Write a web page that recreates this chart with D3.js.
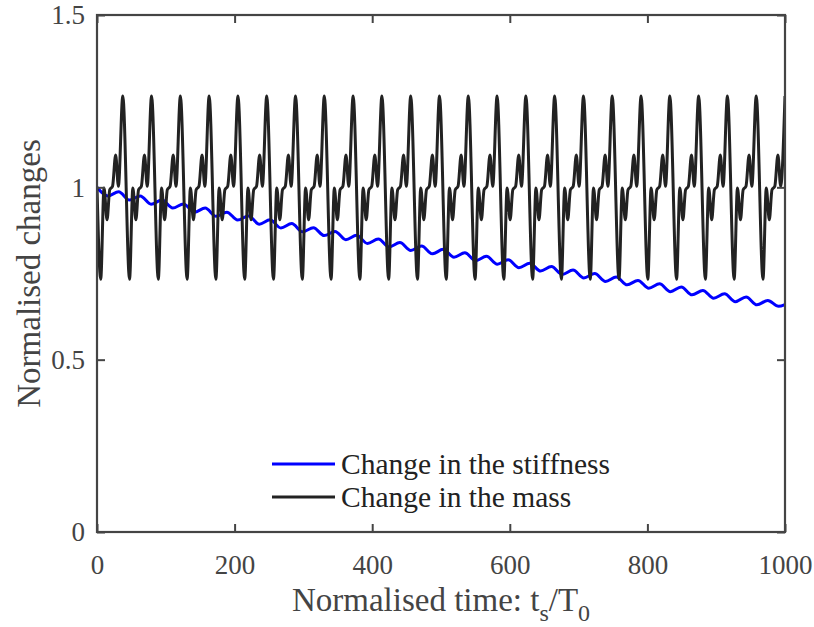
<!DOCTYPE html>
<html><head><meta charset="utf-8">
<script src="https://cdn.jsdelivr.net/npm/d3@7"></script>
<style>
body{margin:0;background:#fff}
svg{display:block}
text{font-family:"Liberation Serif","Times New Roman","Tinos","Nimbus Roman","DejaVu Serif",serif}
</style>
</head><body>
<svg id="chart" width="814" height="627"></svg>
<script>
// ---------------- data ----------------
const xTicks = [0, 200, 400, 600, 800, 1000];
const xTickLabels = ["0", "200", "400", "600", "800", "1000"];
const yTicks = [0, 0.5, 1, 1.5];
const yTickLabels = ["0", "0.5", "1", "1.5"];
const seriesNames = ["Change in the stiffness", "Change in the mass"];

// Change in the stiffness (blue)
const stiffT = [0, 15.7, 31.5, 47.2, 62.9, 78.6, 94.4, 110.1, 125.8, 141.5, 157.3, 173.0, 188.7, 204.4,
  220.2, 235.9, 251.6, 267.3, 283.1, 298.8, 314.5, 330.2, 346.0, 361.7, 377.4, 393.1, 408.9, 424.6,
  440.3, 456.0, 471.8, 487.5, 503.2, 518.9, 534.7, 550.4, 566.1, 581.8, 597.6, 613.3, 629.0, 644.7,
  660.5, 676.2, 691.9, 707.6, 723.4, 739.1, 754.8, 770.5, 786.3, 802.0, 817.7, 833.4, 849.2, 864.9,
  880.6, 896.3, 912.1, 927.8, 943.5, 959.2, 975.0, 990.7, 1000];
const stiffV = [1.000, 0.975, 0.987, 0.963, 0.975, 0.951, 0.963, 0.940, 0.952, 0.928, 0.940, 0.916,
  0.928, 0.905, 0.917, 0.893, 0.906, 0.882, 0.895, 0.871, 0.883, 0.860, 0.872, 0.848, 0.861, 0.837,
  0.850, 0.827, 0.840, 0.817, 0.830, 0.807, 0.820, 0.797, 0.810, 0.787, 0.800, 0.777, 0.790, 0.767,
  0.780, 0.757, 0.770, 0.747, 0.760, 0.737, 0.750, 0.727, 0.740, 0.717, 0.730, 0.707, 0.720, 0.697,
  0.711, 0.688, 0.701, 0.678, 0.691, 0.668, 0.682, 0.659, 0.672, 0.655, 0.660];

// Change in the mass (black)
const massT = [
  0, 5.4, 10.2, 14.6, 18.5, 22.6, 27.1, 31.1,
  37.5, 47.3, 52.1, 56.5, 60.4, 64.5, 69.0, 73.0,
  79.3, 89.1, 93.9, 98.3, 102.2, 106.3, 110.8, 114.8,
  121.2, 131.0, 135.8, 140.2, 144.1, 148.2, 152.7, 156.7,
  163.0, 172.8, 177.6, 182.0, 185.9, 190.0, 194.5, 198.5,
  204.9, 214.7, 219.5, 223.9, 227.8, 231.9, 236.4, 240.4,
  246.7, 256.5, 261.3, 265.7, 269.6, 273.7, 278.2, 282.2,
  288.6, 298.4, 303.2, 307.6, 311.5, 315.6, 320.1, 324.1,
  330.4, 340.2, 345.0, 349.4, 353.3, 357.4, 361.9, 365.9,
  372.3, 382.1, 386.9, 391.3, 395.2, 399.3, 403.8, 407.8,
  414.1, 423.9, 428.7, 433.1, 437.0, 441.1, 445.6, 449.6,
  456.0, 465.8, 470.6, 475.0, 478.9, 483.0, 487.5, 491.5,
  497.8, 507.6, 512.4, 516.8, 520.7, 524.8, 529.3, 533.3,
  539.7, 549.5, 554.3, 558.7, 562.6, 566.7, 571.2, 575.2,
  581.5, 591.3, 596.1, 600.5, 604.4, 608.5, 613.0, 617.0,
  623.4, 633.2, 638.0, 642.4, 646.3, 650.4, 654.9, 658.9,
  665.2, 675.0, 679.8, 684.2, 688.1, 692.2, 696.7, 700.7,
  707.1, 716.9, 721.7, 726.1, 730.0, 734.1, 738.6, 742.6,
  748.9, 758.7, 763.5, 767.9, 771.8, 775.9, 780.4, 784.4,
  790.8, 800.6, 805.4, 809.8, 813.7, 817.8, 822.3, 826.3,
  832.6, 842.4, 847.2, 851.6, 855.5, 859.6, 864.1, 868.1,
  874.5, 884.3, 889.1, 893.5, 897.4, 901.5, 906.0, 910.0,
  916.3, 926.1, 930.9, 935.3, 939.2, 943.3, 947.8, 951.8,
  958.2, 968.0, 972.8, 977.2, 981.1, 985.2, 989.7, 993.7,
  1000];
const massV = [
  1.000, 0.733, 0.998, 0.906, 0.993, 1.003, 1.094, 1.003,
  1.265, 0.733, 0.998, 0.906, 0.993, 1.003, 1.094, 1.003,
  1.265, 0.733, 0.998, 0.906, 0.993, 1.003, 1.094, 1.003,
  1.265, 0.733, 0.998, 0.906, 0.993, 1.003, 1.094, 1.003,
  1.265, 0.733, 0.998, 0.906, 0.993, 1.003, 1.094, 1.003,
  1.265, 0.733, 0.998, 0.906, 0.993, 1.003, 1.094, 1.003,
  1.265, 0.733, 0.998, 0.906, 0.993, 1.003, 1.094, 1.003,
  1.265, 0.733, 0.998, 0.906, 0.993, 1.003, 1.094, 1.003,
  1.265, 0.733, 0.998, 0.906, 0.993, 1.003, 1.094, 1.003,
  1.265, 0.733, 0.998, 0.906, 0.993, 1.003, 1.094, 1.003,
  1.265, 0.733, 0.998, 0.906, 0.993, 1.003, 1.094, 1.003,
  1.265, 0.733, 0.998, 0.906, 0.993, 1.003, 1.094, 1.003,
  1.265, 0.733, 0.998, 0.906, 0.993, 1.003, 1.094, 1.003,
  1.265, 0.733, 0.998, 0.906, 0.993, 1.003, 1.094, 1.003,
  1.265, 0.733, 0.998, 0.906, 0.993, 1.003, 1.094, 1.003,
  1.265, 0.733, 0.998, 0.906, 0.993, 1.003, 1.094, 1.003,
  1.265, 0.733, 0.998, 0.906, 0.993, 1.003, 1.094, 1.003,
  1.265, 0.733, 0.998, 0.906, 0.993, 1.003, 1.094, 1.003,
  1.265, 0.733, 0.998, 0.906, 0.993, 1.003, 1.094, 1.003,
  1.265, 0.733, 0.998, 0.906, 0.993, 1.003, 1.094, 1.003,
  1.265, 0.733, 0.998, 0.906, 0.993, 1.003, 1.094, 1.003,
  1.265, 0.733, 0.998, 0.906, 0.993, 1.003, 1.094, 1.003,
  1.265, 0.733, 0.998, 0.906, 0.993, 1.003, 1.094, 1.003,
  1.265, 0.733, 0.998, 0.906, 0.993, 1.003, 1.094, 1.003,
  1.265];

// ---------------- drawing ----------------
const axisColor = "#444";
const FONT = '"Liberation Serif","Times New Roman","Tinos","Nimbus Roman","DejaVu Serif",serif';
const svg = d3.select("#chart");
const M = {left: 97, right: 785, top: 15, bottom: 532};

const x = d3.scaleLinear().domain([0, 1000]).range([M.left, M.right]);
const y = d3.scaleLinear().domain([0, 1.5]).range([M.bottom, M.top]);

svg.append("defs").append("clipPath").attr("id", "clip")
  .append("rect").attr("x", M.left).attr("y", M.top)
  .attr("width", M.right - M.left).attr("height", M.bottom - M.top);

const stiff = stiffT.map((t, i) => [t, stiffV[i]]);
const mass = massT.map((t, i) => [t, massV[i]]);

const line = d3.line().x(d => x(d[0])).y(d => y(d[1])).curve(d3.curveMonotoneX);

const plot = svg.append("g").attr("clip-path", "url(#clip)");
plot.append("path").datum(stiff).attr("d", line)
  .attr("fill", "none").attr("stroke", "#0000ff").attr("stroke-width", 3).attr("stroke-linejoin", "round");
plot.append("path").datum(mass).attr("d", line)
  .attr("fill", "none").attr("stroke", "#222").attr("stroke-width", 3).attr("stroke-linejoin", "round");

// axes
const tickLen = 8;
const fmtX = (d) => xTickLabels[xTicks.indexOf(d)];
const fmtY = (d) => yTickLabels[yTicks.indexOf(d)];

const gB = svg.append("g").attr("transform", `translate(0,${M.bottom})`)
  .call(d3.axisBottom(x).tickValues(xTicks).tickFormat(fmtX).tickSizeInner(-tickLen).tickSizeOuter(0).tickPadding(0));
const gT = svg.append("g").attr("transform", `translate(0,${M.top})`)
  .call(d3.axisTop(x).tickValues(xTicks).tickFormat("").tickSizeInner(-tickLen).tickSizeOuter(0));
const gL = svg.append("g").attr("transform", `translate(${M.left},0)`)
  .call(d3.axisLeft(y).tickValues(yTicks).tickFormat(fmtY).tickSizeInner(-tickLen).tickSizeOuter(0).tickPadding(12));
const gR = svg.append("g").attr("transform", `translate(${M.right},0)`)
  .call(d3.axisRight(y).tickValues(yTicks).tickFormat("").tickSizeInner(-tickLen).tickSizeOuter(0));

[gB, gT, gL, gR].forEach(g => {
  g.attr("font-family", FONT);
  g.select(".domain").remove();
  g.selectAll(".tick line").attr("stroke", axisColor).attr("stroke-width", 2);
  g.selectAll("text").attr("fill", axisColor).attr("font-size", 27).attr("font-family", FONT);
});
gB.selectAll("text").attr("y", 42).attr("dy", null);
gL.selectAll("text").attr("dy", "0.33em");

svg.append("rect").attr("x", M.left).attr("y", M.top)
  .attr("width", M.right - M.left).attr("height", M.bottom - M.top)
  .attr("fill", "none").attr("stroke", axisColor).attr("stroke-width", 2.2);

// axis labels
const xl = svg.append("text").attr("x", (M.left + M.right) / 2).attr("y", 611)
  .attr("text-anchor", "middle").attr("font-size", 33).attr("fill", axisColor).attr("font-family", FONT);
xl.append("tspan").text("Normalised time: t");
xl.append("tspan").text("s").attr("font-size", 24).attr("dy", 10);
xl.append("tspan").text("/T").attr("dy", -10);
xl.append("tspan").text("0").attr("font-size", 24).attr("dy", 10);

svg.append("text").attr("transform", `translate(40,${(M.top + M.bottom) / 2}) rotate(-90)`)
  .attr("text-anchor", "middle").attr("font-size", 33).attr("fill", axisColor).attr("font-family", FONT)
  .text("Normalised changes");

// legend
const legendColors = ["#0000ff", "#222"];
const lg = svg.append("g");
seriesNames.forEach((name, i) => {
  const yy = 464 + i * 33;
  lg.append("line").attr("x1", 272).attr("x2", 335).attr("y1", yy).attr("y2", yy)
    .attr("stroke", legendColors[i]).attr("stroke-width", 3);
  lg.append("text").attr("x", 341).attr("y", yy + 10).attr("font-size", 29.5).attr("fill", "#222")
    .attr("font-family", FONT).text(name);
});
</script>
</body></html>
